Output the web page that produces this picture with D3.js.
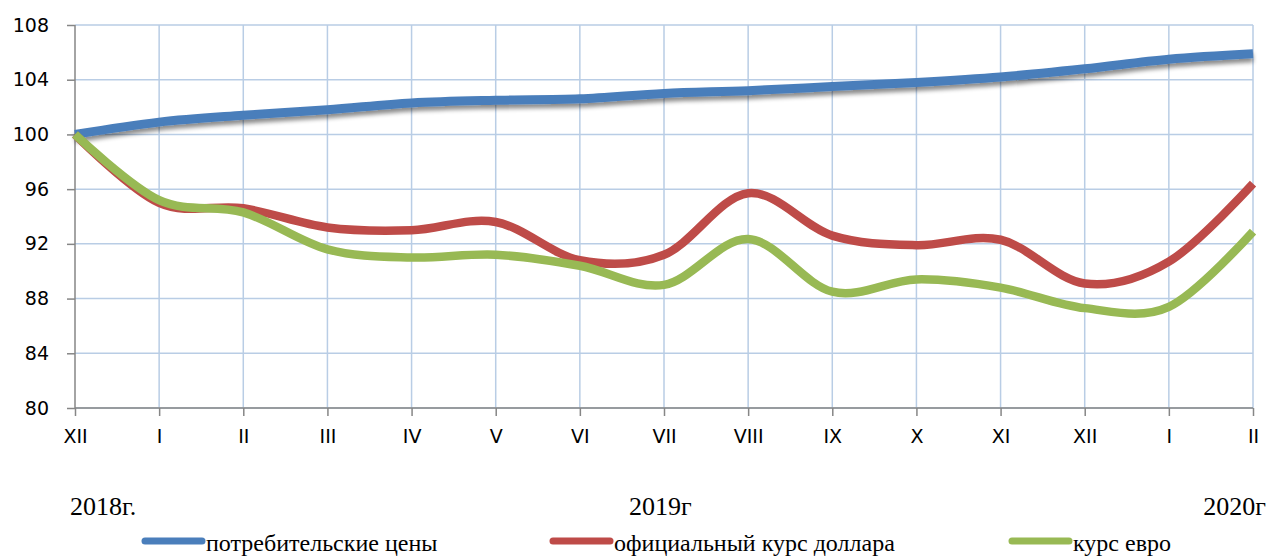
<!DOCTYPE html>
<html>
<head>
<meta charset="utf-8">
<script src="https://cdn.jsdelivr.net/npm/d3@7"></script>
<style>
  body { margin: 0; background: #fff; }
  svg { display: block; }
</style>
</head>
<body>
<svg width="1266" height="558"></svg>
<script>
const svg = d3.select('svg')
const width = +svg.attr('width')
const height = +svg.attr('height')

// months from Dec 2018 to Feb 2020
const months = ['XII', 'I', 'II', 'III', 'IV', 'V', 'VI', 'VII', 'VIII', 'IX', 'X', 'XI', 'XII', 'I', 'II']
const yTicks = [80, 84, 88, 92, 96, 100, 104, 108]
const years = [
  { label: '2018г.', idx: 0 },
  { label: '2019г', idx: 7 },
  { label: '2020г', idx: 14 }
]

const cpi    = [100, 100.9, 101.4, 101.8, 102.3, 102.5, 102.6, 103.0, 103.2, 103.5, 103.8, 104.2, 104.8, 105.5, 105.9]
const usd    = [100, 95.0, 94.6, 93.2, 93.0, 93.6, 90.8, 91.2, 95.7, 92.6, 91.9, 92.3, 89.1, 90.7, 96.4]
const euro   = [100, 95.2, 94.3, 91.6, 91.0, 91.2, 90.4, 89.0, 92.35, 88.5, 89.4, 88.8, 87.3, 87.4, 92.9]

const series = [
  { name: 'потребительские цены', values: cpi, color: '#4a7ebb', shadow: true },
  { name: 'официальный курс доллара', values: usd, color: '#be4b48' },
  { name: 'курс евро', values: euro, color: '#98b954' }
]

const margin = { left: 75, right: 13, top: 25, bottom: 150 }

const x = d3.scaleLinear()
  .domain([0, months.length - 1])
  .range([margin.left, width - margin.right])
const y = d3.scaleLinear()
  .domain([80, 108])
  .range([height - margin.bottom, margin.top])

// shadow under the blue line
const defs = svg.append('defs')
defs.append('filter')
  .attr('id', 'shadow')
  .attr('x', '-5%').attr('y', '-50%').attr('width', '110%').attr('height', '200%')
  .append('feDropShadow')
    .attr('dx', 0).attr('dy', 4).attr('stdDeviation', 2)
    .attr('flood-color', '#000').attr('flood-opacity', 0.45)

// gridlines
svg.append('g')
  .selectAll('line')
  .data(yTicks)
  .enter().append('line')
    .attr('x1', x(0)).attr('x2', x(months.length - 1))
    .attr('y1', d => y(d)).attr('y2', d => y(d))
    .attr('stroke', '#b9cde5').attr('stroke-width', 1.5)
svg.append('g')
  .selectAll('line')
  .data(d3.range(1, months.length))
  .enter().append('line')
    .attr('x1', d => x(d)).attr('x2', d => x(d))
    .attr('y1', y(80)).attr('y2', y(108))
    .attr('stroke', '#b9cde5').attr('stroke-width', 1.5)

// axes
const yAxis = svg.append('g')
  .attr('transform', `translate(${margin.left},0)`)
  .call(d3.axisLeft(y).tickValues(yTicks).tickSize(8).tickPadding(18))
const xAxis = svg.append('g')
  .attr('transform', `translate(0,${y(80)})`)
  .call(d3.axisBottom(x).tickValues(d3.range(months.length)).tickFormat(i => months[i]).tickSize(8).tickPadding(14))

;[yAxis, xAxis].forEach(function (g) {
  g.select('.domain').attr('stroke', '#868686').attr('stroke-width', 1.5)
  g.selectAll('.tick line').attr('stroke', '#868686').attr('stroke-width', 1.5)
  g.selectAll('.tick text')
    .attr('fill', '#000')
    .attr('font-family', 'DejaVu Sans, sans-serif')
    .attr('font-size', 19)
})
yAxis.select('.domain').attr('d', `M0,${y(80)}V${y(108)}`)
xAxis.select('.domain').attr('d', `M${x(0)},0H${x(months.length - 1)}`)

// the lines
const line = d3.line()
  .x((d, i) => x(i))
  .y(d => y(d))
  .curve(d3.curveCatmullRom.alpha(0))

svg.append('g')
  .selectAll('path')
  .data(series)
  .enter().append('path')
    .attr('d', s => line(s.values))
    .attr('fill', 'none')
    .attr('stroke', s => s.color)
    .attr('stroke-width', s => s.shadow ? 9 : 8.5)
    .attr('filter', s => s.shadow ? 'url(#shadow)' : null)

// year labels
svg.append('g')
  .selectAll('text')
  .data(years)
  .enter().append('text')
    .attr('x', (d, i) => i == 0 ? 70 : (i == years.length - 1 ? width : x(d.idx) - 35))
    .attr('y', 515)
    .attr('text-anchor', (d, i) => i == years.length - 1 ? 'end' : 'start')
    .attr('font-family', 'Liberation Serif, serif')
    .attr('font-size', 26)
    .text(d => d.label)

// legend
const legendX = [145, 553, 1012]
const legend = svg.append('g')
  .selectAll('g')
  .data(series)
  .enter().append('g')
    .attr('transform', (d, i) => `translate(${legendX[i]},541)`)
legend.append('line')
  .attr('x1', 0).attr('x2', 57)
  .attr('stroke', d => d.color)
  .attr('stroke-width', 7)
  .attr('stroke-linecap', 'round')
legend.append('text')
  .attr('x', 61).attr('y', 10)
  .attr('font-family', 'Liberation Serif, serif')
  .attr('font-size', 24)
  .text(d => d.name)
</script>
</body>
</html>
